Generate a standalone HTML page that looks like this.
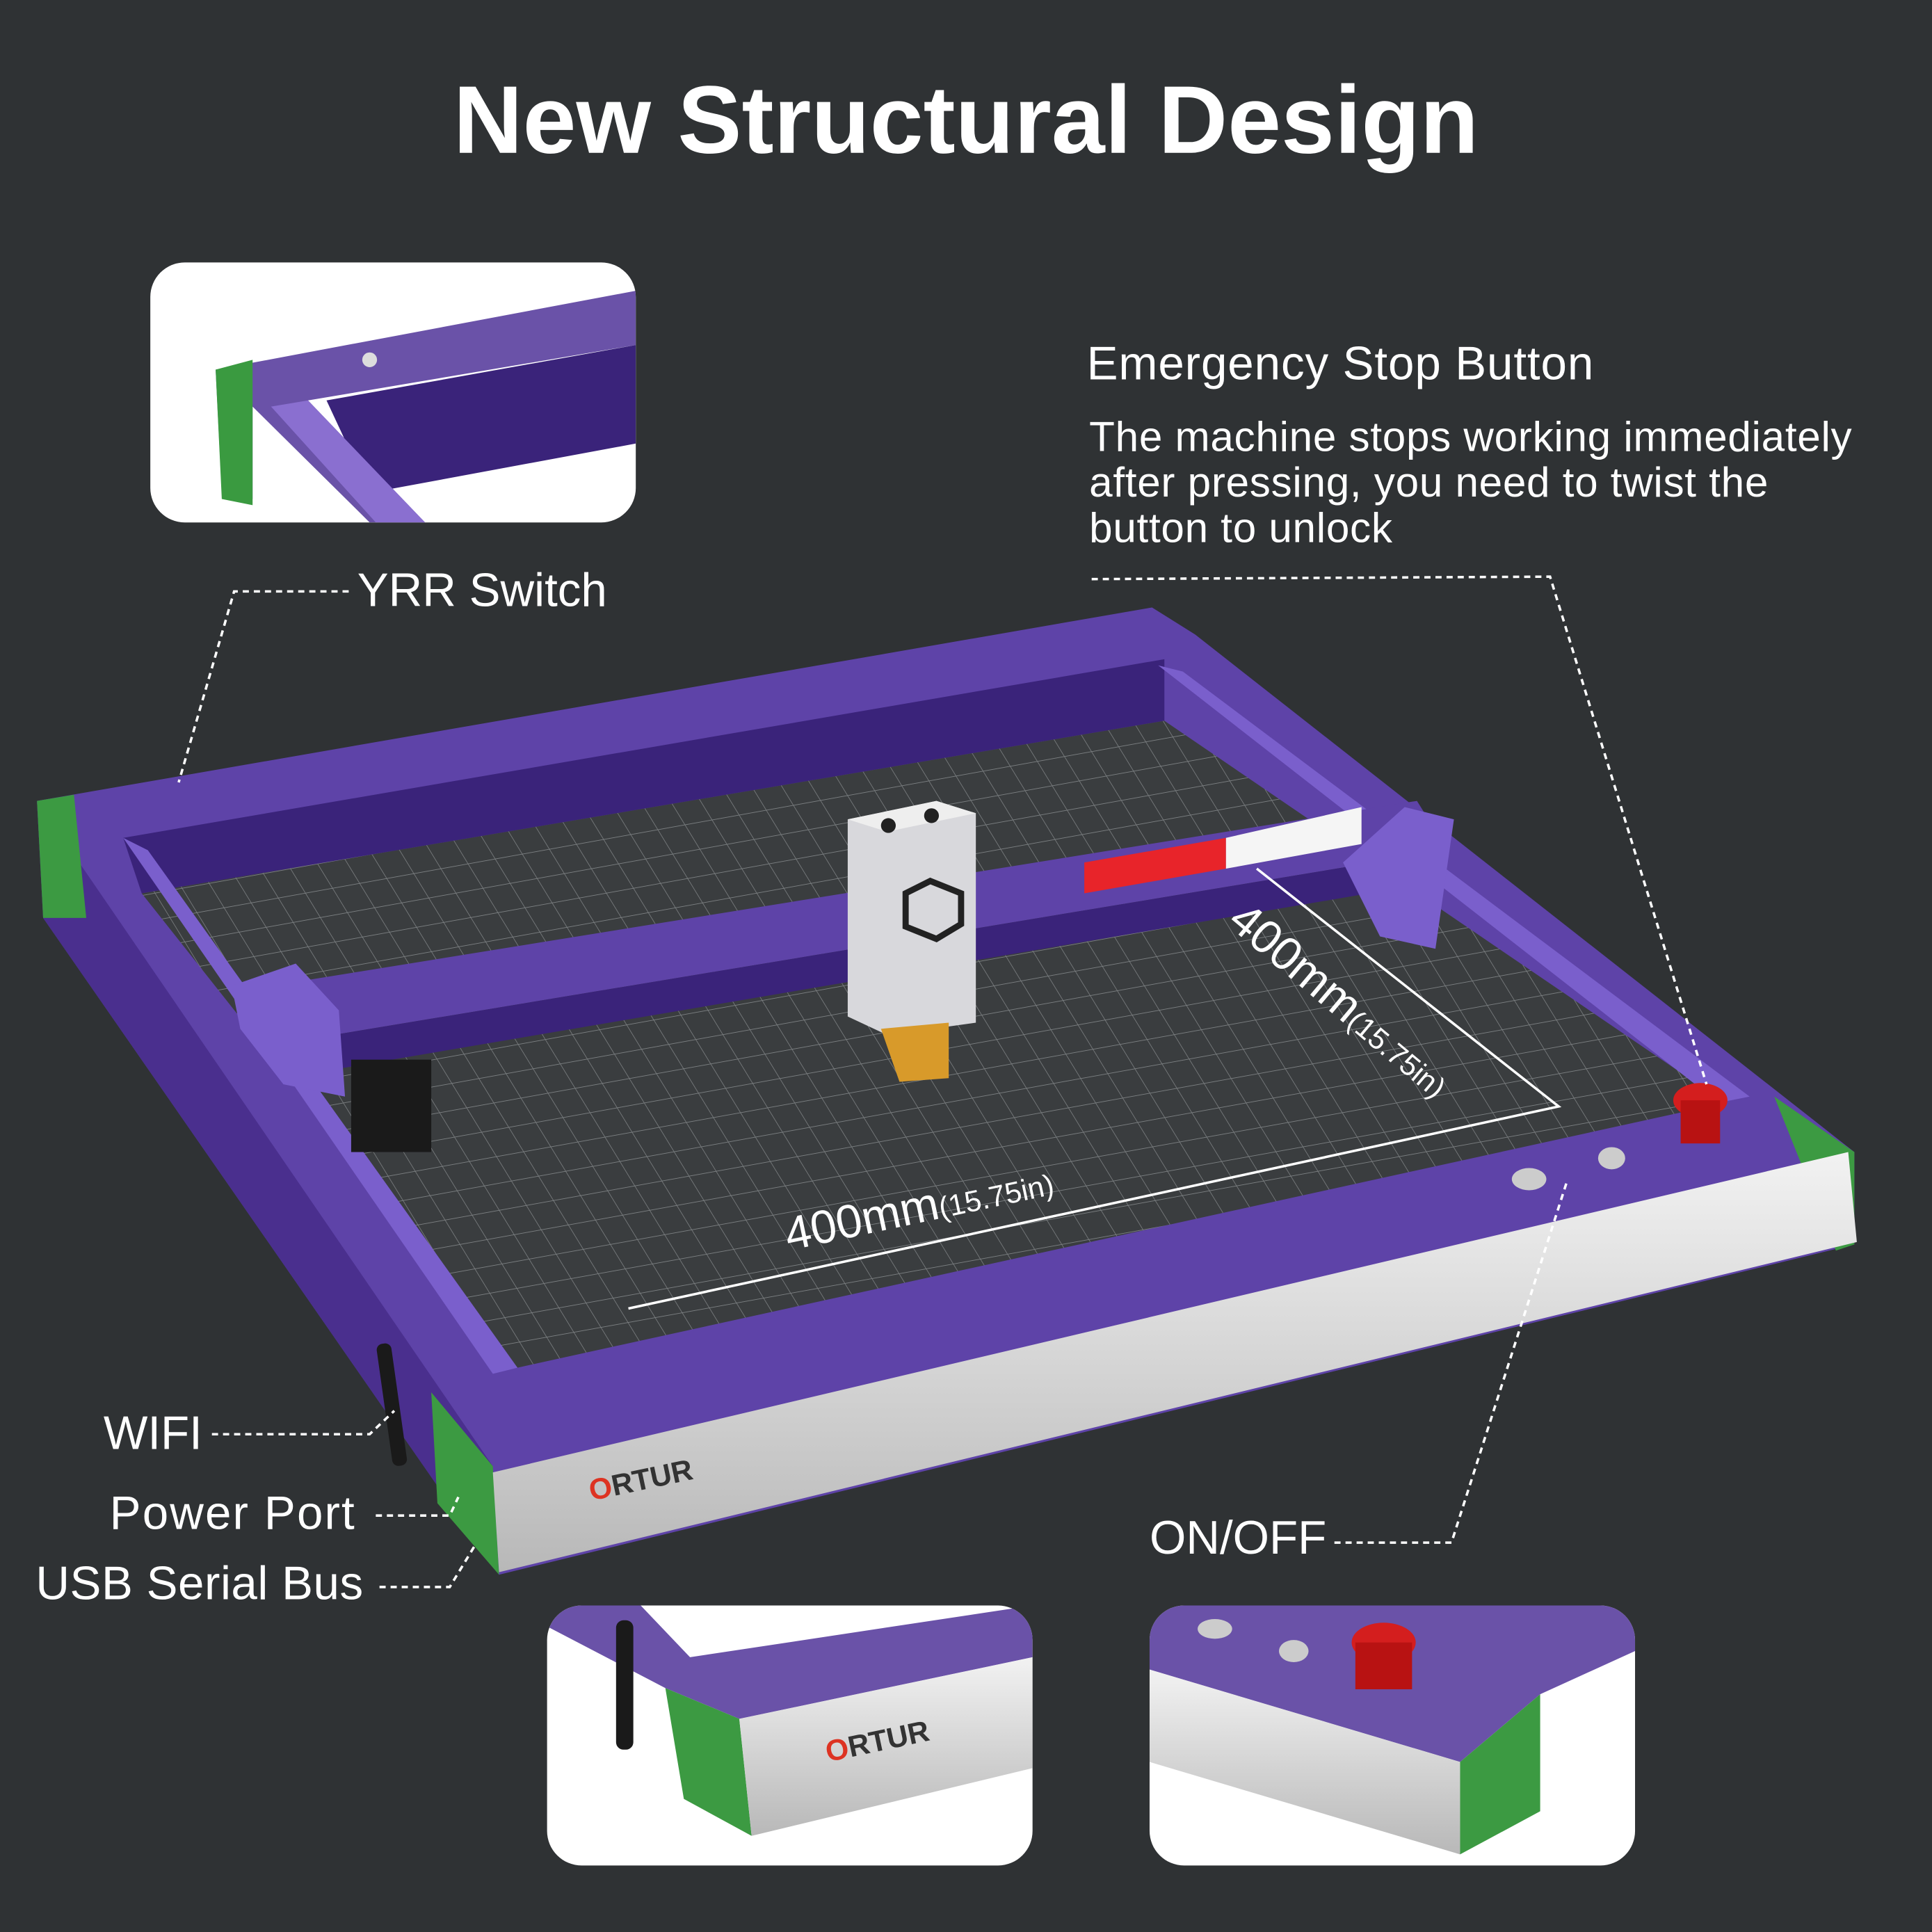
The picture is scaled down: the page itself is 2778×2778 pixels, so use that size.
<!DOCTYPE html>
<html><head><meta charset="utf-8"><style>
html,body{margin:0;padding:0;background:#2f3234}
svg{display:block}
text{font-family:"Liberation Sans",sans-serif;fill:#fff}
</style></head><body>
<svg width="2778" height="2778" viewBox="0 0 1568 1568" xmlns="http://www.w3.org/2000/svg">
<defs>
<pattern id="grid" width="22" height="22" patternUnits="userSpaceOnUse" patternTransform="matrix(1,-0.18,0.55,0.9,0,0)">
<rect width="22" height="22" fill="#3a3d3f"/>
<path d="M0 0H22M0 0V22" stroke="#7a7e80" stroke-width="1"/>
</pattern>
<linearGradient id="silver" x1="0" y1="0" x2="0" y2="1"><stop offset="0" stop-color="#f2f2f2"/><stop offset="1" stop-color="#b8b8b8"/></linearGradient>
</defs>
<rect width="1568" height="1568" fill="#2f3234"/>
<text x="784" y="124" font-size="78" font-weight="bold" text-anchor="middle">New Structural Design</text>

<!-- top-left inset -->
<rect x="122" y="213" width="394" height="211" rx="28" fill="#fff"/>
<clipPath id="c1"><rect x="122" y="213" width="394" height="211" rx="28"/></clipPath>
<g clip-path="url(#c1)">
<polygon points="175,300 516,236 516,280 250,325 345,424 300,424 205,330 205,405 180,400" fill="#6a52a8"/>
<polygon points="265,325 516,280 516,360 300,400" fill="#3a237a"/>
<polygon points="175,300 205,292 205,410 180,405" fill="#3a9a40"/>
<polygon points="220,330 250,325 345,424 305,424" fill="#8a6fd0"/>
<circle cx="300" cy="292" r="6" fill="#ddd"/>
</g>

<!-- machine frame -->
<polygon points="30,650 935,493 970,515 1505,935 1505,1010 405,1278 35,745" fill="#5e43a8"/>
<polygon points="30,650 400,1190 405,1278 35,745" fill="#4a2f8e"/>
<polygon points="30,650 60,645 70,745 35,745" fill="#3c9a42"/>
<polygon points="350,1130 400,1190 405,1278 355,1220" fill="#3c9a42"/>
<polygon points="1440,890 1505,935 1505,1010 1490,1015" fill="#3c9a42"/>
<polygon points="400,1195 1500,935 1507,1008 405,1276" fill="url(#silver)"/>
<polygon points="100,680 945,535 945,585 115,725" fill="#3a237a"/>
<!-- bed -->
<polygon points="115,725 945,585 1400,895 420,1110" fill="url(#grid)"/>
<polygon points="100,680 120,690 420,1110 400,1115" fill="#7a5fcc"/>
<polygon points="940,540 960,545 1420,890 1395,895" fill="#7a5fcc"/>

<!-- gantry -->
<polygon points="190,805 1150,650 1175,690 210,850" fill="#5e43a8"/>
<polygon points="210,850 1175,690 1170,715 230,875" fill="#3a237a"/>
<polygon points="188,800 240,782 275,820 280,890 230,880 195,835" fill="#7a5fcc"/>
<polygon points="1140,655 1180,665 1165,770 1120,760 1090,700" fill="#7a5fcc"/>
<rect x="285" y="860" width="65" height="75" fill="#1a1a1a"/>
<polygon points="880,700 995,680 995,705 880,725" fill="#e8242a"/>
<polygon points="995,680 1105,655 1105,685 995,705" fill="#f5f5f5"/>
<!-- laser head -->
<polygon points="688,665 760,650 792,660 792,830 720,840 688,825" fill="#d8d8dc"/>
<polygon points="688,665 760,650 792,660 720,675" fill="#eee"/>
<polygon points="715,835 770,830 770,875 730,878" fill="#d89a2a"/>
<circle cx="721" cy="670" r="6" fill="#222"/><circle cx="756" cy="662" r="6" fill="#222"/>
<path d="M735 725 l20 -10 l25 10 l0 25 l-20 12 l-25 -10 z" fill="none" stroke="#222" stroke-width="5"/>

<!-- buttons -->
<ellipse cx="1241" cy="957" rx="14" ry="9" fill="#ccc"/>
<ellipse cx="1308" cy="940" rx="11" ry="9" fill="#ccc"/>
<ellipse cx="1380" cy="893" rx="22" ry="14" fill="#d41e1e"/>
<rect x="1364" y="893" width="32" height="35" fill="#b81212"/>
<rect x="312" y="1090" width="12" height="100" rx="5" fill="#1a1a1a" transform="rotate(-8 318 1140)"/>
<text x="480" y="1218" font-size="24" font-weight="bold" transform="rotate(-12 480 1218)" style="fill:#333"><tspan style="fill:#d32">O</tspan>RTUR</text>

<!-- dimension lines -->
<polyline points="510,1062 1265,898 1020,705" fill="none" stroke="#fff" stroke-width="2"/>
<text x="640" y="1015" font-size="38" transform="rotate(-12 640 1015)">400mm<tspan font-size="24">(15.75in)</tspan></text>
<text x="995" y="750" font-size="38" transform="rotate(40 995 750)">400mm<tspan font-size="24">(15.75in)</tspan></text>

<!-- callouts -->
<text x="290" y="492" font-size="38">YRR Switch</text>
<polyline points="283,480 190,480 145,635" fill="none" stroke="#fff" stroke-width="2" stroke-dasharray="5,4"/>
<text x="882" y="308" font-size="38" letter-spacing="0.5">Emergency Stop Button</text>
<text x="884" y="366" font-size="34" letter-spacing="0.4">The machine stops working immediately</text>
<text x="884" y="403" font-size="34" letter-spacing="0.4">after pressing, you need to twist the</text>
<text x="884" y="440" font-size="34" letter-spacing="0.4">button to unlock</text>
<polyline points="886,470 1258,468 1385,880" fill="none" stroke="#fff" stroke-width="2" stroke-dasharray="5,4"/>
<text x="84" y="1176" font-size="38">WIFI</text>
<polyline points="172,1164 300,1164 320,1145" fill="none" stroke="#fff" stroke-width="2" stroke-dasharray="5,4"/>
<text x="89" y="1241" font-size="38" letter-spacing="1.2">Power Port</text>
<polyline points="305,1230 365,1230 372,1215" fill="none" stroke="#fff" stroke-width="2" stroke-dasharray="5,4"/>
<text x="29" y="1298" font-size="38" letter-spacing="0.3">USB Serial Bus</text>
<polyline points="308,1288 365,1288 385,1255" fill="none" stroke="#fff" stroke-width="2" stroke-dasharray="5,4"/>
<text x="933" y="1261" font-size="38">ON/OFF</text>
<polyline points="1083,1252 1178,1252 1272,958" fill="none" stroke="#fff" stroke-width="2" stroke-dasharray="5,4"/>

<!-- bottom insets -->
<rect x="444" y="1303" width="394" height="211" rx="28" fill="#fff"/>
<clipPath id="c2"><rect x="444" y="1303" width="394" height="211" rx="28"/></clipPath>
<g clip-path="url(#c2)">
<polygon points="444,1303 520,1303 560,1345 838,1303 838,1345 600,1395 540,1370 444,1320" fill="#6a52a8"/>
<polygon points="540,1370 600,1395 610,1490 555,1460" fill="#3c9a42"/>
<polygon points="600,1395 838,1345 838,1435 610,1490" fill="url(#silver)"/>
<rect x="500" y="1315" width="14" height="105" rx="6" fill="#1a1a1a"/>
<text x="672" y="1430" font-size="24" font-weight="bold" transform="rotate(-12 672 1430)" style="fill:#333"><tspan style="fill:#d32">O</tspan>RTUR</text>
</g>
<rect x="933" y="1303" width="394" height="211" rx="28" fill="#fff"/>
<clipPath id="c3"><rect x="933" y="1303" width="394" height="211" rx="28"/></clipPath>
<g clip-path="url(#c3)">
<polygon points="933,1303 1327,1303 1327,1340 1250,1375 1185,1430 933,1355" fill="#6a52a8"/>
<polygon points="933,1355 1185,1430 1185,1505 933,1430" fill="url(#silver)"/>
<polygon points="1185,1430 1250,1375 1250,1470 1185,1505" fill="#3c9a42"/>
<ellipse cx="1123" cy="1333" rx="26" ry="16" fill="#d41e1e"/>
<rect x="1100" y="1333" width="46" height="38" fill="#b81212"/>
<ellipse cx="986" cy="1322" rx="14" ry="8" fill="#ccc"/>
<ellipse cx="1050" cy="1340" rx="12" ry="9" fill="#ccc"/>
</g>
</svg>
</body></html>
